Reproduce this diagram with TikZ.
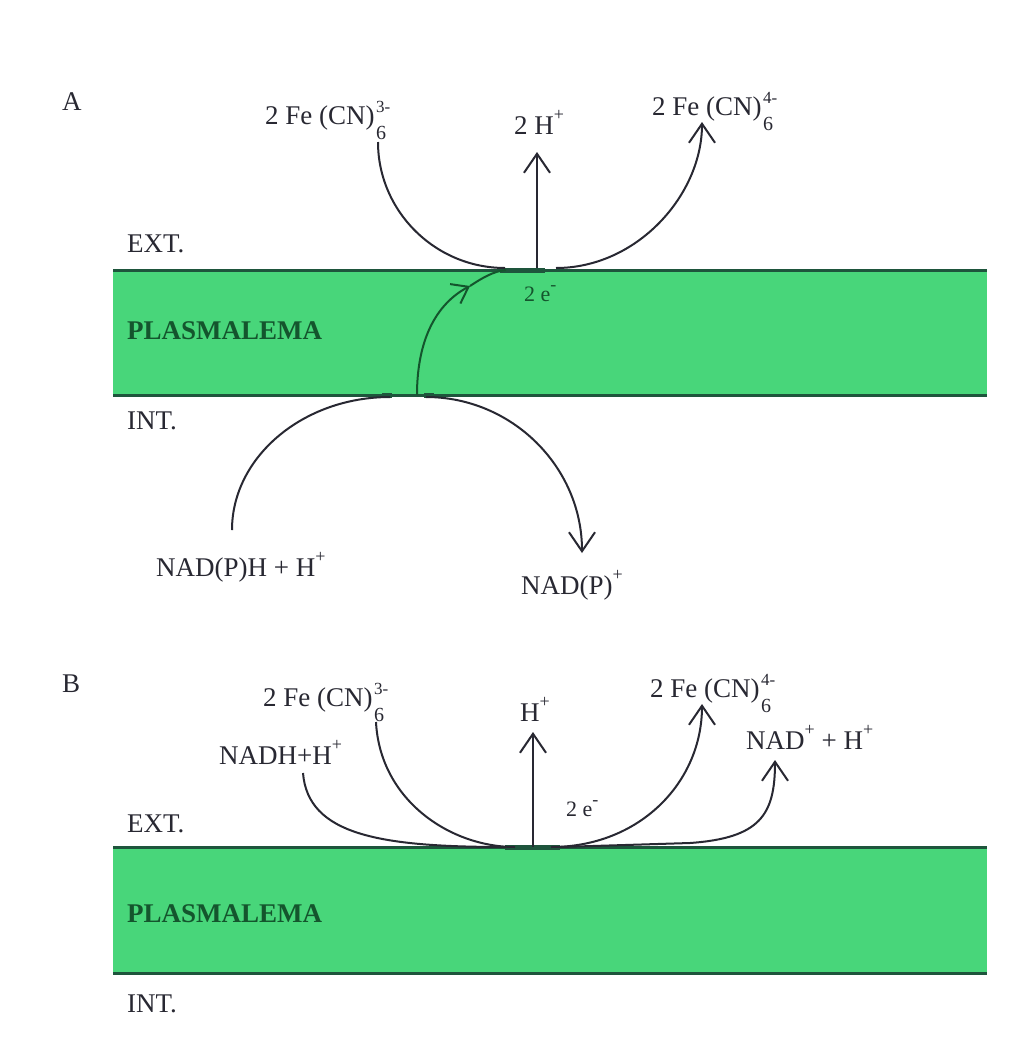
\documentclass[tikz,border=0pt]{standalone}
\usepackage{fontspec}
\setmainfont{Liberation Serif}
\usetikzlibrary{arrows.meta}
\definecolor{memfill}{RGB}{72,214,122}
\definecolor{memedge}{RGB}{30,85,60}
\definecolor{memtext}{RGB}{20,85,45}
\definecolor{ink}{RGB}{40,40,50}
\newcommand\supx[1]{\raisebox{0.5em}{\fontsize{18}{18}\selectfont #1}}
\newcommand\ferro[1]{2 Fe (CN)\kern1.5pt\rlap{\raisebox{0.42em}{\fontsize{17}{17}\selectfont #1}}\raisebox{-0.56em}{\fontsize{20}{20}\selectfont 6}}
\tikzset{
  lbl/.style={anchor=base west, inner sep=0pt, text=ink, font=\fontsize{27}{30}\selectfont},
  memlbl/.style={lbl, text=memtext, font=\fontsize{27}{30}\selectfont\bfseries},
  small/.style={lbl, font=\fontsize{22}{24}\selectfont},
  flow/.style={draw=ink, line width=2pt},
  barb/.style={flow, -{Straight Barb[length=19pt,width=26pt,line width=2pt]}},
  band/.style={fill=memfill, draw=none},
  edge/.style={draw=memedge, line width=3pt}
}
\begin{document}
\begin{tikzpicture}[x=1pt,y=-1pt]
\fill[white] (0,0) rectangle (1017,1053);
\useasboundingbox (0,0) rectangle (1017,1053);

% ---------- Panel A ----------
\fill[band] (113,270) rectangle (987,395);
\draw[edge] (113,270) -- (987,270);
\draw[edge] (113,395) -- (987,395);
\draw[memedge, line width=5pt] (500,270) -- (545,270);
\draw[memedge, line width=5pt] (382,395) -- (392,395) (424,395) -- (434,395);

\node[lbl] (lA) at (62,110) {A};
\node[lbl] (feLA) at (265,124) {\ferro{3-}};
\node[lbl] (hA) at (514,134) {2 H\supx{+}};
\node[lbl] (feRA) at (652,115) {\ferro{4-}};
\node[lbl] (extA) at (127,252) {EXT.};
\node[memlbl] (plA) at (127,339) {PLASMALEMA};
\node[lbl] (intA) at (127,429) {INT.};
\node[small, text=memtext] (eA) at (524,301) {2 e\supx{-}};
\node[lbl] (nadphA) at (156,576) {NAD(P)H + H\supx{+}};
\node[lbl] (nadpA) at (521,594) {NAD(P)\supx{+}};

\coordinate (a1) at (378,142);
\coordinate (a2) at (505,268);
\coordinate (ah0) at (537,268);
\coordinate (ah1) at (537,152);
\coordinate (a3) at (556,268);
\coordinate (a4) at (702,122);
\coordinate (am0) at (417,395);
\coordinate (amid) at (470,286);
\coordinate (am1) at (506,270);
\coordinate (ab1) at (232,530);
\coordinate (ab2) at (390,397);
\coordinate (ab3) at (426,397);
\coordinate (ab4) at (582,553);

\draw[flow] (a1) .. controls (378,211) and (435,268) .. (a2);
\draw[barb] (ah0) -- (ah1);
\draw[barb] (a3) .. controls (637,268) and (702,195) .. (a4);
\draw[flow, draw=memtext, -{Straight Barb[length=15pt,width=22pt,line width=2pt]}]
   (am0) .. controls (417,340) and (436,304) .. (amid);
\draw[flow, draw=memtext] (amid) .. controls (482,278) and (494,271) .. (am1);
\draw[flow] (ab1) .. controls (232,457) and (303,397) .. (ab2);
\draw[barb] (ab3) .. controls (512,397) and (582,467) .. (ab4);

% ---------- Panel B ----------
\fill[band] (113,847) rectangle (987,973);
\draw[edge] (113,847) -- (987,847);
\draw[edge] (113,973) -- (987,973);
\draw[memedge, line width=5pt] (505,847) -- (560,847);

\node[lbl] (lB) at (62,692) {B};
\node[lbl] (feLB) at (263,706) {\ferro{3-}};
\node[lbl] (hB) at (520,721) {H\supx{+}};
\node[lbl] (feRB) at (650,697) {\ferro{4-}};
\node[lbl] (nadhB) at (219,764) {NADH+H\supx{+}};
\node[lbl] (nadB) at (746,749) {NAD\supx{+} + H\supx{+}};
\node[small] (eB) at (566,816) {2 e\supx{-}};
\node[lbl] (extB) at (127,832) {EXT.};
\node[memlbl] (plB) at (127,922) {PLASMALEMA};
\node[lbl] (intB) at (127,1012) {INT.};

\coordinate (b1) at (303,773);
\coordinate (b2) at (506,847);
\coordinate (b3) at (376,722);
\coordinate (b4) at (515,847);
\coordinate (bh0) at (533,847);
\coordinate (bh1) at (533,732);
\coordinate (b5) at (551,847);
\coordinate (b6) at (702,704);
\coordinate (b7) at (560,847);
\coordinate (b8) at (690,843);
\coordinate (b9) at (775,760);

\draw[flow] (b1) .. controls (308,835) and (380,847) .. (b2);
\draw[flow] (b3) .. controls (380,800) and (450,847) .. (b4);
\draw[barb] (bh0) -- (bh1);
\draw[barb] (b5) .. controls (640,847) and (702,782) .. (b6);
\draw[barb] (b7) -- (b8) .. controls (760,838) and (775,815) .. (b9);
\end{tikzpicture}
\end{document}
